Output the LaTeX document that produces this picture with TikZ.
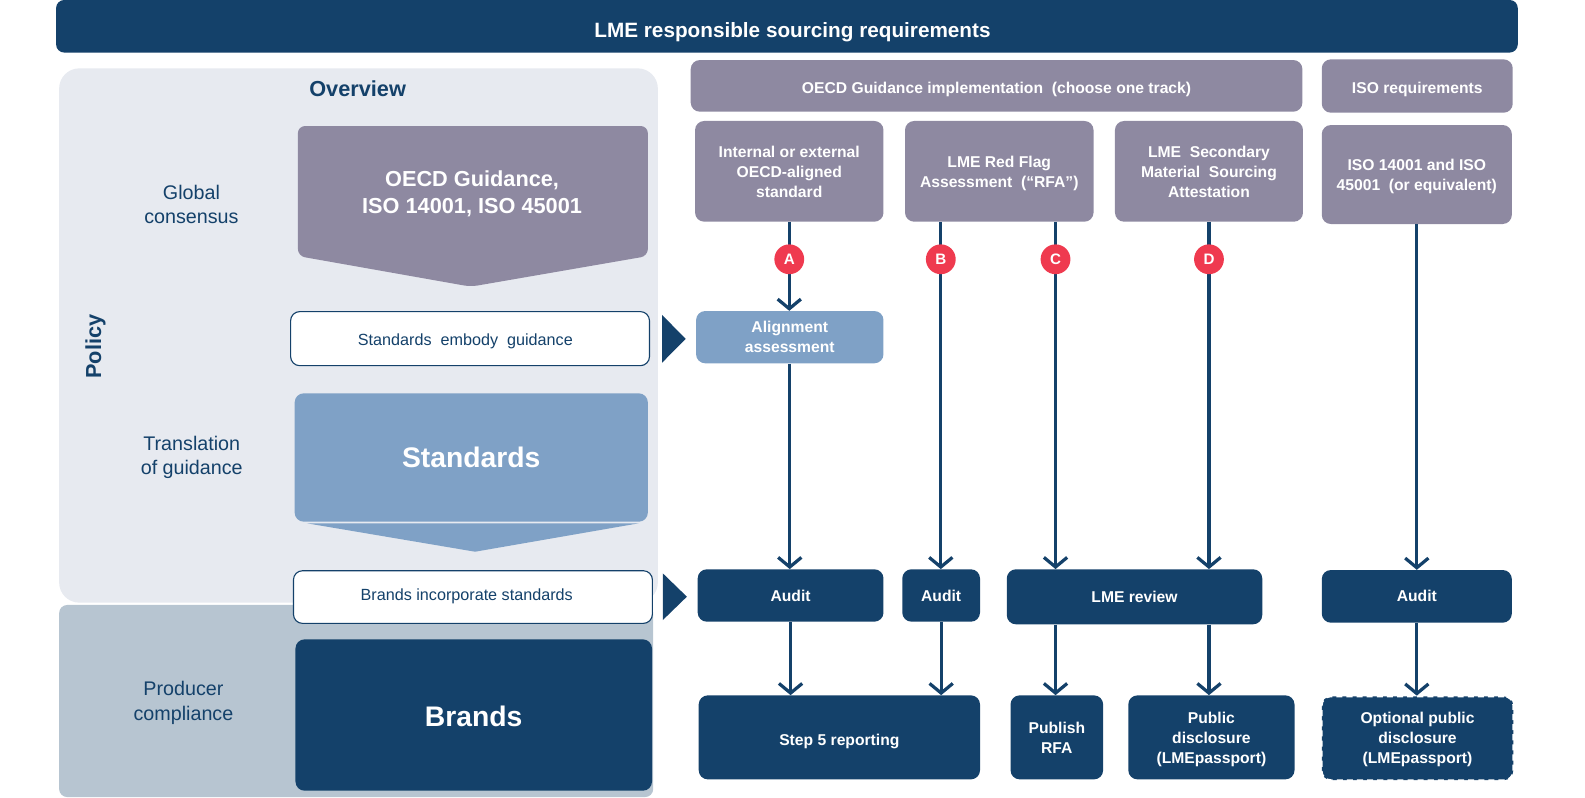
\documentclass[tikz,border=0pt]{standalone}
\usepackage{fontspec}
\setmainfont{Liberation Sans}
\usetikzlibrary{arrows.meta}
\definecolor{navy}{HTML}{14416A}
\definecolor{lilac}{HTML}{8E89A1}
\definecolor{lblue}{HTML}{7FA1C6}
\definecolor{panelA}{HTML}{E7EAF0}
\definecolor{panelB}{HTML}{B7C5D1}
\definecolor{redc}{HTML}{EF3A4F}
\tikzset{
  rbox/.style={rounded corners=9, inner sep=0pt, align=center, text=white,
     font=\fontsize{15.5}{19.8}\selectfont\bfseries},
  oneline/.style={text height=15.5pt, text depth=0pt},
  multi/.style={text depth=-3.5pt},
  navybox/.style={rbox, fill=navy},
  lilacbox/.style={rbox, fill=lilac},
  bluebox/.style={rbox, fill=lblue},
  whitebox/.style={rounded corners=9, inner sep=0pt, fill=white, draw=navy, line width=1.1pt},
  whitetxt/.style={text=navy, font=\fontsize{16}{19}\selectfont},
  sidelbl/.style={text=navy, align=center, font=\fontsize{19.5}{24.6}\selectfont},
  badge/.style={circle, fill=redc, minimum size=29.5pt, inner sep=0pt, text=white,
     font=\fontsize{15}{15}\selectfont\bfseries},
  ln/.style={draw=navy, line width=3.2pt},
  arr/.style={ln, -{Straight Barb[length=9.5pt,width=23pt]}},
}
\begin{document}
\begin{tikzpicture}[x=1pt,y=-1pt]
\useasboundingbox (0,0) rectangle (1568,789);
% title
\node[fill=navy, rounded corners=8, minimum width=1446pt, minimum height=52pt, inner sep=0pt] (titlebar) at (778.5,26) {};
\node[text=white, font=\fontsize{20.5}{24}\selectfont\bfseries] (title) at (784,32) {LME responsible sourcing requirements};
% left panels
\fill[panelA, rounded corners=20] (58.5,67.6) rectangle (650.8,596.2);
\fill[panelB, rounded corners=8] (58.5,598.5) rectangle (646.2,788.5);
\node[text=navy, font=\fontsize{21.5}{26}\selectfont\bfseries] (overview) at (353.8,87.4) {Overview};
\node[text=navy, rotate=90, font=\fontsize{21.5}{26}\selectfont\bfseries] (policy) at (94.6,343) {Policy};
\node[sidelbl] (global) at (189.4,202.2) {Global\\consensus};
\node[sidelbl] (transl) at (189.7,452.5) {Translation\\of guidance};
\node[sidelbl] (producer) at (181.5,695.3) {Producer\\compliance};
% OECD pentagon
\fill[lilac, rounded corners=7] (465.8,283.6) -- (294.7,253.3) -- (294.7,124.7) -- (640.9,124.7) -- (640.9,253.3) -- cycle;
\node[text=white, align=center, font=\fontsize{21.5}{27}\selectfont\bfseries] (oecd) at (467,192) {OECD Guidance,\\ISO 14001, ISO 45001};
% standards embody
\node[whitebox, minimum width=355pt, minimum height=53.5pt] (embody) at (465,335) {};
\node[whitetxt] (embodytxt) at (460.4,337.5) {Standards\ \ embody\ \ guidance};
\fill[navy] (655,311.6) -- (678.3,335.2) -- (655,358.8) -- cycle;
% standards
\node[bluebox, text height=21pt, minimum width=349.4pt, minimum height=127pt, font=\fontsize{28}{30}\selectfont\bfseries] (std) at (466.2,452.6) {Standards};
\fill[lblue] (303.7,517.7) -- (631.9,517.7) -- (470,545.8) -- cycle;
% brands incorporate
\node[whitebox, minimum width=355.1pt, minimum height=52.1pt] (incorp) at (467.85,590.65) {};
\node[whitetxt] (incorptxt) at (461.7,590) {Brands incorporate standards};
\fill[navy] (655.7,567.2) -- (679.5,590.3) -- (655.7,613.4) -- cycle;
% brands
\node[navybox, text height=23pt, minimum width=352.7pt, minimum height=149.7pt, font=\fontsize{28}{30}\selectfont\bfseries] (brands) at (468.65,707.35) {Brands};
% right headers
\node[lilacbox, oneline, minimum width=605.1pt, minimum height=51.1pt] (impl) at (985.85,84.95) {OECD Guidance implementation\ \ (choose one track)};
\node[lilacbox, oneline, minimum width=188.9pt, minimum height=52.8pt] (isoreq) at (1402.05,85.1) {ISO requirements};
\node[lilacbox, multi, minimum width=186.4pt, minimum height=99.6pt] (boxA) at (780.8,169.5) {Internal or external\\OECD-aligned\\standard};
\node[lilacbox, multi, minimum width=186.5pt, minimum height=99.6pt] (boxB) at (988.55,169.5) {LME Red Flag\\Assessment\ \ (“RFA”)};
\node[lilacbox, multi, minimum width=186pt, minimum height=99.6pt] (boxD) at (1196,169.5) {LME\ \ Secondary\\Material\ \ Sourcing\\Attestation};
\node[lilacbox, multi, minimum width=188pt, minimum height=97.9pt] (isobox) at (1401.6,172.65) {ISO 14001 and ISO\\45001\ \ (or equivalent)};
% middle row
\node[bluebox, multi, minimum width=185.4pt, minimum height=51.7pt] (align) at (781.3,333.55) {Alignment\\assessment};
\node[navybox, minimum width=183.8pt, minimum height=51.8pt] (auditA) at (782.1,589.1) {Audit};
\node[navybox, minimum width=76.9pt, minimum height=51.8pt] (auditB) at (931.05,589.1) {Audit};
\node[navybox, minimum width=252.7pt, minimum height=54.4pt] (review) at (1122.35,590.4) {LME review};
\node[navybox, minimum width=188pt, minimum height=52.1pt] (auditI) at (1401.6,589.95) {Audit};
% bottom row
\node[navybox, oneline, minimum width=278.3pt, minimum height=83.1pt] (step5) at (830.35,729.45) {Step 5 reporting};
\node[navybox, multi, minimum width=91.6pt, minimum height=83.1pt] (rfa) at (1045.5,729.45) {Publish\\RFA};
\node[navybox, multi, minimum width=164.4pt, minimum height=83.1pt] (pubdis) at (1198.4,729.45) {Public\\disclosure\\(LMEpassport)};
\node[navybox, multi, draw=white, line width=1.6pt, dash pattern=on 6pt off 4pt, minimum width=189.4pt, minimum height=82.7pt] (optdis) at (1402.3,730.35) {Optional public\\disclosure\\(LMEpassport)};
% badge positions
\coordinate (pA) at (780.8,256.5);
\coordinate (pB) at (930.7,256.5);
\coordinate (pC) at (1044.2,256.5);
\coordinate (pD) at (1196,256.5);
% connectors
\draw[ln] (boxA.south) -- (pA);
\draw[ln] (boxB.south -| pB) -- (pB);
\draw[ln] (boxB.south -| pC) -- (pC);
\draw[ln] (boxD.south) -- (pD);
\draw[arr] (pA) -- (pA |- align.north);
\draw[arr] (align.south) -- (align.south |- auditA.north);
\draw[arr] (pB) -- (pB |- auditB.north);
\draw[arr] (pC) -- (pC |- review.north);
\draw[arr] (pD) -- (pD |- review.north);
\draw[arr] (isobox.south) -- (isobox.south |- auditI.north);
\draw[arr] (auditA.south) -- (auditA.south |- step5.north);
\draw[arr] (auditB.south) -- (auditB.south |- step5.north);
\draw[arr] (review.south -| pC) -- (pC |- rfa.north);
\draw[arr] (review.south -| pD) -- (pD |- pubdis.north);
\draw[arr] (auditI.south) -- (auditI.south |- optdis.north);
% badges
\node[badge] (cA) at (pA) {A};
\node[badge] (cB) at (pB) {B};
\node[badge] (cC) at (pC) {C};
\node[badge] (cD) at (pD) {D};
\end{tikzpicture}
\end{document}
